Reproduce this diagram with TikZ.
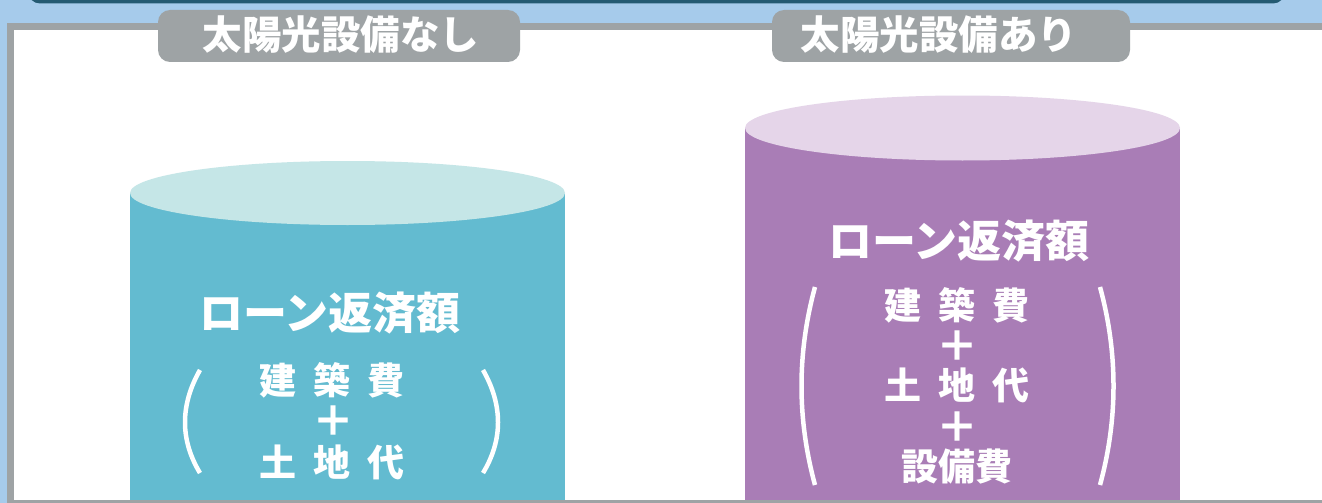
\documentclass[tikz,border=0pt]{standalone}
\usepackage{fontspec}
\newfontfamily\jp{Noto Sans CJK JP}
\definecolor{bgblue}{HTML}{A6CBEB}
\definecolor{darkbar}{HTML}{245A72}
\definecolor{framegray}{HTML}{9EA3A5}
\definecolor{tealbody}{HTML}{63BBD0}
\definecolor{tealtop}{HTML}{C5E6E7}
\definecolor{purpbody}{HTML}{A97DB6}
\definecolor{purptop}{HTML}{E5D5E9}
\tikzset{
  txt/.style={inner sep=0pt, text=white, font=\jp\bfseries},
  plus/.style={inner sep=0pt, text=white, font=\jp\bfseries\fontsize{42}{44}\selectfont},
  paren/.style={draw=white, line width=4.5pt},
  tag/.style={fill=framegray, rounded corners=12pt, inner sep=0pt}
}
\begin{document}
\begin{tikzpicture}[x=1pt,y=-1pt]
\useasboundingbox (0,0) rectangle (1322,503);
% background
\fill[bgblue] (0,0) rectangle (1322,503);
\fill[darkbar, rounded corners=12pt] (28,-30) rectangle (1285,3.5);
% frame
\fill[framegray] (7,23) rectangle (1340,520);
\fill[white] (14,30.5) rectangle (1340,500);
% left cylinder
\fill[tealbody] (130,193) rectangle (565,500);
\fill[tealtop] (347.5,193) ellipse [x radius=217.5, y radius=32];
% right cylinder
\fill[purpbody] (745,128) rectangle (1180,500);
\fill[purptop] (962.5,128) ellipse [x radius=217.5, y radius=32.5];
% bottom frame edge
\fill[framegray] (7,500) rectangle (1340,520);
% tags
\node[tag, minimum width=362pt, minimum height=52pt] (tagA) at (339,36) {};
\node[tag, minimum width=358pt, minimum height=52pt] (tagB) at (951,36) {};
\node[txt, font=\jp\bfseries\fontsize{39.5}{42}\selectfont] (tagAt) at (341,35) {太陽光設備なし};
\node[txt, font=\jp\bfseries\fontsize{39.5}{42}\selectfont] (tagBt) at (939,35) {太陽光設備あり};
% left texts
\node[txt, font=\jp\bfseries\fontsize{44}{46}\selectfont] (la) at (330,313) {ローン返済額};
\node[txt, font=\jp\bfseries\fontsize{37}{40}\selectfont] (lb) at (332,380) {建\hspace{17pt}築\hspace{17pt}費};
\node[plus] (lc) at (333,421) {＋};
\node[txt, font=\jp\bfseries\fontsize{37}{40}\selectfont] (ld) at (332,462) {土\hspace{17pt}地\hspace{17pt}代};
\draw[paren] (200,370) .. controls (180,405) and (180,440) .. (200,473);
\draw[paren] (483,370) .. controls (503,405) and (503,440) .. (483,473);
% right texts
\node[txt, font=\jp\bfseries\fontsize{44}{46}\selectfont] (ra) at (959,241) {ローン返済額};
\node[txt, font=\jp\bfseries\fontsize{37}{40}\selectfont] (rb) at (957,305) {建\hspace{17pt}築\hspace{17pt}費};
\node[plus] (rc) at (957,346) {＋};
\node[txt, font=\jp\bfseries\fontsize{37}{40}\selectfont] (rd) at (957,385) {土\hspace{17pt}地\hspace{17pt}代};
\node[plus] (re) at (957,427) {＋};
\node[txt, font=\jp\bfseries\fontsize{37}{40}\selectfont] (rf) at (957,467) {設備費};
\draw[paren] (815,287) .. controls (797,353) and (797,419) .. (815,485);
\draw[paren] (1100,287) .. controls (1118,353) and (1118,419) .. (1100,485);
\end{tikzpicture}
\end{document}
